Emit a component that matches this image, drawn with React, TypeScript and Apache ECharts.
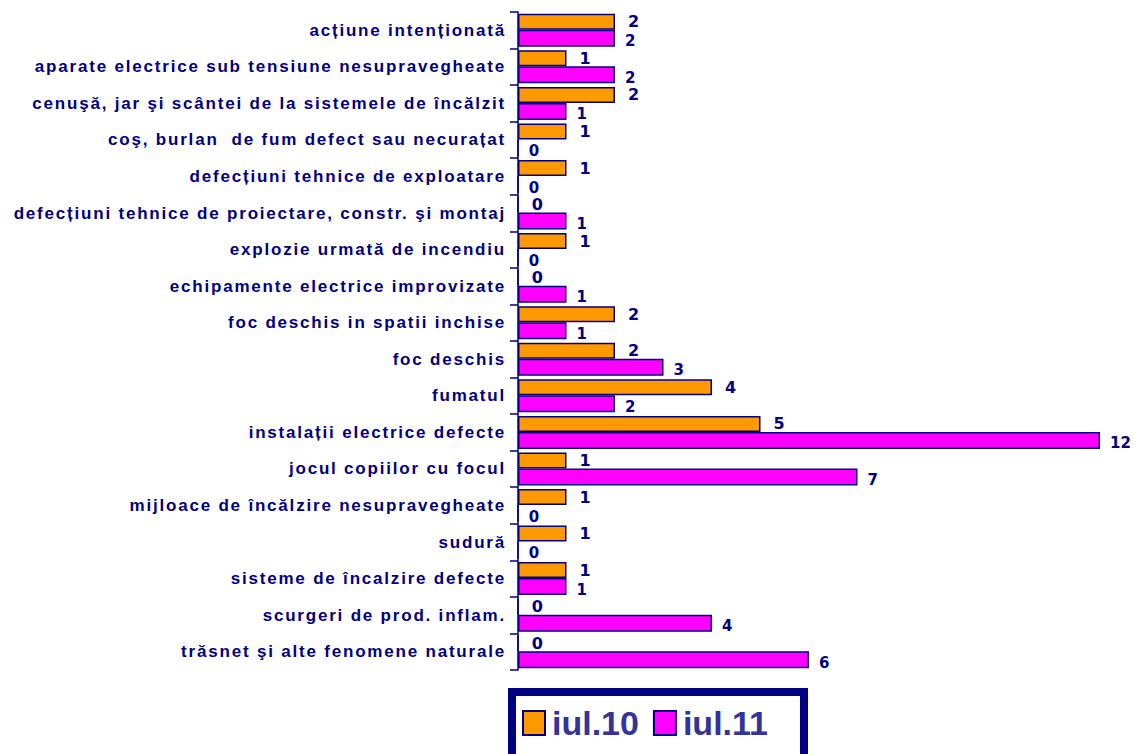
import React, { useEffect, useRef } from "react";
import * as echarts from "echarts";

const categories = [
  "acțiune intenționată",
  "aparate electrice sub tensiune nesupravegheate",
  "cenuşă, jar şi scântei de la sistemele de încălzit",
  "coş, burlan  de fum defect sau necurațat",
  "defecțiuni tehnice de exploatare",
  "defecțiuni tehnice de proiectare, constr. şi montaj",
  "explozie urmată de incendiu",
  "echipamente electrice improvizate",
  "foc deschis in spatii inchise",
  "foc deschis",
  "fumatul",
  "instalații electrice defecte",
  "jocul copiilor cu focul",
  "mijloace de încălzire nesupravegheate",
  "sudură",
  "sisteme de încalzire defecte",
  "scurgeri de prod. inflam.",
  "trăsnet şi alte fenomene naturale",
];

const iul10 = [2, 1, 2, 1, 1, 0, 1, 0, 2, 2, 4, 5, 1, 1, 1, 1, 0, 0];
const iul11 = [2, 2, 1, 0, 0, 1, 0, 1, 1, 3, 2, 12, 7, 0, 0, 1, 4, 6];

const NAVY = "#000080";
const SANS = "'Liberation Sans', Arial, sans-serif";
const VERD = "'DejaVu Sans', Verdana, sans-serif";

export default function App() {
  const ref = useRef<HTMLDivElement>(null);
  useEffect(() => {
    if (!ref.current) return;
    const chart = echarts.init(ref.current, undefined, { renderer: "svg" });
    chart.setOption({
      animation: false,
      backgroundColor: "#fff",
      grid: { left: 518, right: 35, top: 12, bottom: 84, containLabel: false },
      xAxis: {
        type: "value",
        min: 0,
        max: 12,
        show: false,
      },
      yAxis: {
        type: "category",
        inverse: true,
        data: categories,
        axisLine: { show: true, lineStyle: { color: NAVY, width: 1.5 } },
        axisTick: { show: true, length: 8, lineStyle: { color: NAVY, width: 1.5 } },
        axisLabel: {
          interval: 0,
          color: NAVY,
          fontFamily: SANS,
          fontWeight: "bold",
          fontSize: 17,
          margin: 12,
        },
      },
      legend: {
        left: 522,
        top: 706,
        icon: "rect",
        itemWidth: 22,
        itemHeight: 24,
        itemGap: 14,
        padding: 0,
        z: 10,
        textStyle: {
          color: "#333399",
          fontFamily: SANS,
          fontWeight: "bold",
          fontSize: 34,
          padding: [2, 0, 0, 2],
        },
        data: ["iul.10", "iul.11"],
      },
      graphic: [
        {
          type: "rect",
          z: 1,
          shape: { x: 512, y: 692, width: 292, height: 70 },
          style: { fill: "#fff", stroke: NAVY, lineWidth: 8 },
        },
      ],
      series: [
        {
          name: "iul.10",
          type: "bar",
          data: iul10,
          barWidth: 16,
          barGap: "0%",
          itemStyle: { color: "#FF9900", borderColor: NAVY, borderWidth: 1.5 },
          label: {
            show: true,
            position: "right",
            distance: 13,
            offset: [0, 0],
            color: NAVY,
            fontFamily: VERD,
            fontWeight: "bold",
            fontSize: 16,
          },
        },
        {
          name: "iul.11",
          type: "bar",
          data: iul11,
          barWidth: 17,
          itemStyle: { color: "#FF00FF", borderColor: NAVY, borderWidth: 1.5 },
          label: {
            show: true,
            position: "right",
            distance: 10,
            offset: [0, 3],
            color: NAVY,
            fontFamily: VERD,
            fontWeight: "bold",
            fontSize: 15,
          },
        },
      ],
    });
    return () => chart.dispose();
  }, []);
  return (
    <>
      <style>{`.chart-root text[text-anchor="end"]{letter-spacing:1.8px}`}</style>
      <div
        ref={ref}
        className="chart-root"
        style={{ width: 1135, height: 754, position: "absolute", left: 0, top: 0 }}
      />
    </>
  );
}
